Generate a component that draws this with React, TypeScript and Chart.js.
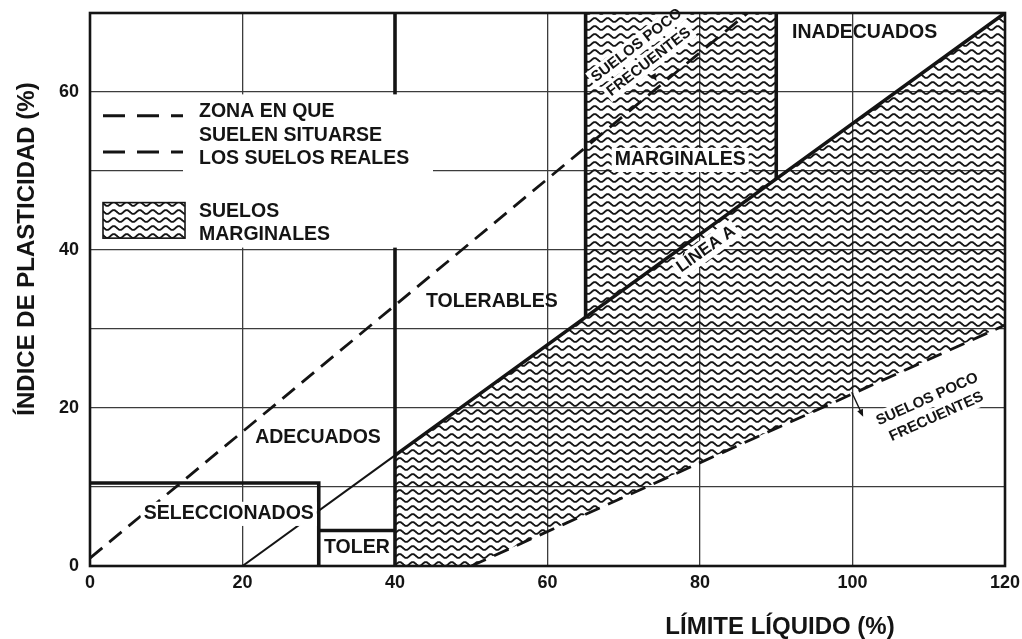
import React, { useEffect, useRef } from "react";
import { Chart, registerables } from "chart.js";

Chart.register(...registerables);

// ---- Data ----
const xTickValues = [0, 20, 40, 60, 80, 100, 120];
const yTickValues = [0, 20, 40, 60];

// Línea A
const lineAThinX = [20, 40];
const lineAThinY = [0, 14];
const lineAX = [40, 65, 90, 120];
const lineAY = [14, 31.5, 49, 70];

// Dashed limits of the zone where real soils lie
const upperDashX = [0, 86.25];
const upperDashY = [1, 70];
const lowerDashX = [50, 120];
const lowerDashY = [0, 30.5];

// Suelos marginales (hatched region)
const marginalX = [40, 50, 120, 120, 90, 90, 65, 65, 40, 40];
const marginalY = [0, 0, 30.5, 70, 49, 70, 70, 31.5, 14, 0];

// Thick zone boundaries
const seleccionadosX = [0, 30, 30];
const seleccionadosY = [10.5, 10.5, 0];
const tolerX = [30, 40];
const tolerY = [4.5, 4.5];
const limit40X = [40, 40];
const limit40Y = [0, 70];
const limit65X = [65, 65];
const limit65Y = [31.5, 70];
const limit90X = [90, 90];
const limit90Y = [49, 70];

// Region names and their anchor (data units)
const regionNames = ["INADECUADOS", "MARGINALES", "TOLERABLES", "ADECUADOS", "SELECCIONADOS", "TOLER"];
const regionAnchorX = [101.6, 77.4, 52.7, 29.9, 18.2, 35.0];
const regionAnchorY = [67.5, 51.4, 33.5, 16.2, 6.6, 2.3];
const regionWhiteBg = [false, true, false, false, true, false];

const legendDashText = ["ZONA EN QUE", "SUELEN SITUARSE", "LOS SUELOS REALES"];
const legendHatchText = ["SUELOS", "MARGINALES"];
const rareText = ["SUELOS POCO", "FRECUENTES"];
const lineAText = "LÍNEA A";
const xTitle = "LÍMITE LÍQUIDO (%)";
const yTitle = "ÍNDICE DE PLASTICIDAD (%)";

const FONT = '"Liberation Sans", Arial, Helvetica, sans-serif';
const INK = "#141414";

const pts = (xs: number[], ys: number[]) => xs.map((x, i) => ({ x, y: ys[i] }));

function makeWavePattern(ctx: CanvasRenderingContext2D) {
  const c = document.createElement("canvas");
  const w = 13;
  const h = 8;
  c.width = w;
  c.height = h;
  const g = c.getContext("2d")!;
  g.strokeStyle = "#161616";
  g.lineWidth = 1.9;
  for (const off of [-h, 0, h]) {
    g.beginPath();
    for (let i = -2; i <= 30; i++) {
      const xx = i / 2;
      const yy = h / 2 + off + 1.9 * Math.sin((xx / w) * 2 * Math.PI);
      if (i === -2) g.moveTo(xx, yy);
      else g.lineTo(xx, yy);
    }
    g.stroke();
  }
  return ctx.createPattern(c, "repeat")!;
}

function textWithBg(
  ctx: CanvasRenderingContext2D,
  text: string,
  cx: number,
  cy: number,
  angle: number,
  size: number,
  bg: boolean
) {
  ctx.save();
  ctx.translate(cx, cy);
  ctx.rotate(angle);
  ctx.font = `bold ${size}px ${FONT}`;
  ctx.textAlign = "center";
  ctx.textBaseline = "middle";
  if (bg) {
    const w = ctx.measureText(text).width;
    ctx.fillStyle = "#fff";
    ctx.fillRect(-w / 2 - 3, -size * 0.62, w + 6, size * 1.24);
  }
  ctx.fillStyle = INK;
  ctx.fillText(text, 0, 0);
  ctx.restore();
}

function arrowHead(ctx: CanvasRenderingContext2D, x0: number, y0: number, x1: number, y1: number, len: number) {
  const a = Math.atan2(y1 - y0, x1 - x0);
  ctx.beginPath();
  ctx.moveTo(x1, y1);
  ctx.lineTo(x1 - len * Math.cos(a - 0.4), y1 - len * Math.sin(a - 0.4));
  ctx.lineTo(x1 - len * Math.cos(a + 0.4), y1 - len * Math.sin(a + 0.4));
  ctx.closePath();
  ctx.fill();
}

export default function App() {
  const ref = useRef<HTMLCanvasElement>(null);

  useEffect(() => {
    document.body.style.margin = "0";
    const canvas = ref.current!;
    const ctx0 = canvas.getContext("2d")!;
    const pattern = makeWavePattern(ctx0);

    const annotate = {
      id: "annotate",
      afterDatasetsDraw(chart: any) {
        const { ctx, chartArea: a, scales } = chart;
        const X = scales.x;
        const Y = scales.y;
        const px = (v: number) => X.getPixelForValue(v);
        const py = (v: number) => Y.getPixelForValue(v);
        ctx.save();

        // Legend panel (white, hides grid behind)
        ctx.fillStyle = "#fff";
        ctx.fillRect(a.left + 93, py(59.7), 250, py(40.3) - py(59.7));

        // legend dashes
        ctx.strokeStyle = INK;
        ctx.lineWidth = 3;
        ctx.setLineDash([22, 12]);
        for (const yy of [py(57), py(52.4)]) {
          ctx.beginPath();
          ctx.moveTo(a.left + 13, yy);
          ctx.lineTo(a.left + 93, yy);
          ctx.stroke();
        }
        ctx.setLineDash([]);
        // legend hatch box
        const hbTop = py(46);
        const hbH = py(41.5) - py(46);
        ctx.fillStyle = pattern;
        ctx.fillRect(a.left + 13, hbTop, 82, hbH);
        ctx.lineWidth = 1.6;
        ctx.strokeStyle = INK;
        ctx.strokeRect(a.left + 13, hbTop, 82, hbH);

        ctx.font = `bold 19.5px ${FONT}`;
        ctx.fillStyle = INK;
        ctx.textAlign = "left";
        ctx.textBaseline = "middle";
        legendDashText.forEach((t, i) => ctx.fillText(t, a.left + 109, py(57.5) + i * 23.5));
        legendHatchText.forEach((t, i) => ctx.fillText(t, a.left + 109, py(44.9) + i * 23.5));

        // region names
        regionNames.forEach((t, i) => {
          textWithBg(ctx, t, px(regionAnchorX[i]), py(regionAnchorY[i]), 0, 19.5, regionWhiteBg[i]);
        });

        // Línea A label
        textWithBg(ctx, lineAText, px(80.8), py(40.1), -0.62, 17, true);

        // Suelos poco frecuentes (upper)
        textWithBg(ctx, rareText[0], px(71.7), py(65.9), -0.66, 15, true);
        textWithBg(ctx, rareText[1], px(73.3), py(63.8), -0.66, 15, true);
        ctx.fillStyle = INK;
        arrowHead(ctx, px(73.0), py(63.6), px(74.3), py(61.4), 8);

        // Suelos poco frecuentes (lower)
        textWithBg(ctx, rareText[0], px(109.8), py(21.1), -0.42, 15, true);
        textWithBg(ctx, rareText[1], px(111.0), py(18.9), -0.42, 15, true);
        ctx.strokeStyle = INK;
        ctx.lineWidth = 1.4;
        ctx.beginPath();
        ctx.moveTo(px(99.9), py(22));
        ctx.lineTo(px(101.2), py(19.3));
        ctx.stroke();
        ctx.fillStyle = INK;
        arrowHead(ctx, px(99.9), py(22), px(101.4), py(18.9), 8);

        // frame
        ctx.strokeStyle = INK;
        ctx.lineWidth = 2.6;
        ctx.strokeRect(a.left, a.top, a.right - a.left, a.bottom - a.top);

        // axis titles
        ctx.fillStyle = INK;
        ctx.font = `bold 24px ${FONT}`;
        ctx.textAlign = "center";
        ctx.textBaseline = "middle";
        ctx.fillText(xTitle, 780, 627);
        ctx.save();
        ctx.translate(27, 249);
        ctx.rotate(-Math.PI / 2);
        ctx.fillText(yTitle, 0, 0);
        ctx.restore();

        ctx.restore();
      },
    };

    const solid = (xs: number[], ys: number[], w: number) => ({
      data: pts(xs, ys),
      borderColor: INK,
      borderWidth: w,
      pointRadius: 0,
      fill: false,
      tension: 0,
      borderCapStyle: "butt" as const,
    });
    const dashed = (xs: number[], ys: number[]) => ({
      data: pts(xs, ys),
      borderColor: INK,
      borderWidth: 2.8,
      borderDash: [16, 9],
      pointRadius: 0,
      fill: false,
      tension: 0,
    });

    const zeroPad = (s: any) => {
      s.paddingTop = 0;
      s.paddingBottom = 0;
      s.paddingLeft = 0;
      s.paddingRight = 0;
    };

    const chart = new Chart(canvas, {
      type: "line",
      data: {
        datasets: [
          { label: "Línea A (inicio)", ...solid(lineAThinX, lineAThinY, 2) },
          { label: "Línea A", ...solid(lineAX, lineAY, 3.6) },
          { label: "Zona superior", ...dashed(upperDashX, upperDashY) },
          { label: "Zona inferior", ...dashed(lowerDashX, lowerDashY) },
          { label: "Seleccionados", ...solid(seleccionadosX, seleccionadosY, 3.6) },
          { label: "Toler", ...solid(tolerX, tolerY, 3.6) },
          { label: "LL 40", ...solid(limit40X, limit40Y, 3.6) },
          { label: "LL 65", ...solid(limit65X, limit65Y, 3.6) },
          { label: "LL 90", ...solid(limit90X, limit90Y, 3.6) },
          {
            label: "Suelos marginales",
            data: pts(marginalX, marginalY),
            borderColor: "rgba(0,0,0,0)",
            borderWidth: 1,
            backgroundColor: pattern as any,
            fill: "shape" as any,
            pointRadius: 0,
            tension: 0,
          },
        ],
      },
      options: {
        animation: false,
        responsive: false,
        events: [],
        layout: { padding: { left: 0, right: 17, top: 13, bottom: 0 } },
        plugins: {
          legend: { display: false },
          tooltip: { enabled: false },
          title: { display: false },
        },
        scales: {
          x: {
            type: "linear",
            min: 0,
            max: 120,
            afterFit: (s: any) => {
              s.height = 73;
              zeroPad(s);
            },
            afterBuildTicks: (s: any) => {
              s.ticks = xTickValues.map((v) => ({ value: v }));
            },
            ticks: {
              autoSkip: false,
              maxRotation: 0,
              padding: 6,
              color: INK,
              font: { family: FONT, size: 18, weight: "bold" },
            },
            grid: { color: "#3c3c3c", lineWidth: 1.3, drawTicks: false },
            border: { display: false },
          },
          y: {
            type: "linear",
            min: 0,
            max: 70,
            afterFit: (s: any) => {
              s.width = 90;
              zeroPad(s);
            },
            ticks: {
              stepSize: 10,
              autoSkip: false,
              padding: 11,
              color: INK,
              font: { family: FONT, size: 18, weight: "bold" },
              callback: (v: any) => (yTickValues.includes(Number(v)) ? String(v) : ""),
            },
            grid: { color: "#3c3c3c", lineWidth: 1.3, drawTicks: false },
            border: { display: false },
          },
        },
      },
      plugins: [annotate],
    });

    return () => chart.destroy();
  }, []);

  return (
    <div style={{ width: 1022, height: 639, background: "#fff" }}>
      <canvas ref={ref} width={1022} height={639} style={{ display: "block" }} />
    </div>
  );
}
